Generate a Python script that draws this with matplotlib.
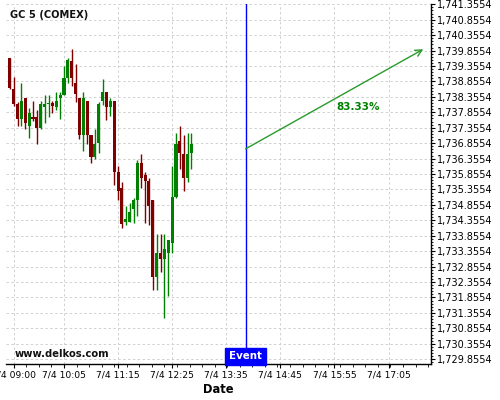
import matplotlib
matplotlib.use("Agg")
import matplotlib.pyplot as plt
import matplotlib.dates as mdates
from matplotlib.ticker import AutoMinorLocator, FixedLocator, FuncFormatter
import matplotlib.transforms as mtransforms
import numpy as np
import pandas as pd

# ---------------- data ----------------
start_time = "2019-07-04 08:55"
n_candles = 48
opens = [1739.63, 1738.61, 1738.12, 1737.63, 1738.31, 1737.42, 1737.71, 1737.71, 1737.34, 1738.04,
         1738.12, 1738.15, 1738.04, 1738.31, 1738.42, 1738.96, 1739.52, 1738.80, 1738.31, 1737.13,
         1738.22, 1737.13, 1736.42, 1736.85, 1738.22, 1738.51, 1738.04, 1738.22, 1735.93, 1735.40,
         1734.31, 1734.31, 1734.72, 1735.02, 1736.22, 1735.83, 1735.63, 1735.02, 1732.53, 1733.29,
         1733.11, 1733.29, 1733.63, 1735.12, 1736.93, 1736.51, 1735.74, 1736.53]
highs = [1739.63, 1739.01, 1738.20, 1738.80, 1738.31, 1738.01, 1738.22, 1737.92, 1738.22, 1738.42,
         1738.42, 1738.22, 1738.52, 1738.52, 1739.36, 1739.63, 1739.90, 1739.41, 1738.31, 1738.51,
         1738.22, 1737.13, 1737.31, 1738.20, 1738.93, 1738.51, 1738.31, 1738.22, 1736.12, 1735.61,
         1734.81, 1734.92, 1735.09, 1736.31, 1736.50, 1735.91, 1735.72, 1735.02, 1733.91, 1733.91,
         1733.91, 1733.72, 1736.10, 1737.20, 1737.41, 1737.12, 1737.20, 1737.20]
lows = [1738.60, 1738.07, 1737.41, 1737.41, 1737.31, 1737.02, 1737.58, 1736.83, 1737.32, 1737.52,
        1737.71, 1737.84, 1737.93, 1737.63, 1738.42, 1738.81, 1738.71, 1738.20, 1737.00, 1736.60,
        1736.82, 1736.21, 1736.34, 1736.55, 1738.09, 1737.61, 1737.74, 1735.50, 1735.02, 1734.10,
        1734.19, 1734.31, 1734.28, 1734.51, 1735.40, 1734.28, 1734.19, 1732.10, 1732.10, 1732.69,
        1731.18, 1731.89, 1733.29, 1735.07, 1736.01, 1735.31, 1735.61, 1736.01]
closes = [1738.63, 1738.13, 1737.63, 1738.22, 1737.52, 1737.82, 1737.63, 1737.34, 1738.12, 1738.12,
          1738.15, 1738.06, 1738.22, 1738.42, 1738.96, 1739.55, 1738.97, 1738.44, 1737.13, 1738.31,
          1737.13, 1736.42, 1736.83, 1738.12, 1738.51, 1738.04, 1738.22, 1735.93, 1735.32, 1734.24,
          1734.40, 1734.63, 1735.02, 1736.22, 1735.73, 1735.63, 1734.83, 1732.53, 1733.29, 1733.11,
          1733.43, 1733.72, 1735.12, 1736.83, 1736.53, 1735.74, 1736.51, 1736.83]

title_text = "GC 5 (COMEX)"
watermark = "www.delkos.com"
event_label = "Event"
event_time = "2019-07-04 14:00"
arrow_start_value = 1736.67
arrow_end_time = "2019-07-04 17:50"
arrow_end_value = 1739.90
pct_text = "83.33%"
pct_time = "2019-07-04 16:26"
pct_value = 1738.04

x_tick_times = ["2019-07-04 09:00", "2019-07-04 10:05", "2019-07-04 11:15", "2019-07-04 12:25",
                "2019-07-04 13:35", "2019-07-04 14:45", "2019-07-04 15:55", "2019-07-04 17:05"]
x_tick_labels = ["7/4 09:00", "7/4 10:05", "7/4 11:15", "7/4 12:25",
                 "7/4 13:35", "7/4 14:45", "7/4 15:55", "7/4 17:05"]
x_limits = ["2019-07-04 08:50", "2019-07-04 18:00"]
y_ticks = [1729.8554 + 0.5 * i for i in range(24)]
y_limits = (1729.70, 1741.365)

# ---------------- plot ----------------
fig = plt.figure(figsize=(5, 4), dpi=100)
ax = fig.add_axes([0.012, 0.09, 0.850, 0.90])

times = pd.date_range(start_time, periods=n_candles, freq="5min")
x = mdates.date2num(times.to_pydatetime())
o = np.array(opens); h = np.array(highs); l = np.array(lows); c = np.array(closes)
up = c >= o
cols = np.where(up, "#008000", "#800000")

ax.vlines(x, l, h, colors=cols, linewidth=1.0, zorder=3)
body_bottom = np.minimum(o, c)
body_h = np.maximum(np.abs(c - o), 0.03)
ax.bar(x, body_h, bottom=body_bottom, width=4.0 / 1440, color=cols, edgecolor=cols,
       linewidth=0, zorder=4)

ev = mdates.date2num(pd.Timestamp(event_time).to_pydatetime())
ax.axvline(ev, color="#0000ff", linewidth=1.0, zorder=5)
trans = mtransforms.blended_transform_factory(ax.transData, ax.transAxes)
ax.text(ev, 0.021, event_label, transform=trans, ha="center", va="center",
        color="white", fontsize=7.4, fontweight="bold", zorder=6,
        bbox=dict(boxstyle="square,pad=0.38", fc="#0000ff", ec="#0000ff"))

ae = mdates.date2num(pd.Timestamp(arrow_end_time).to_pydatetime())
ax.annotate("", xy=(ae, arrow_end_value), xytext=(ev, arrow_start_value),
            arrowprops=dict(arrowstyle="->", color="#2a9a2a", lw=1.0,
                            shrinkA=0, shrinkB=0, mutation_scale=12), zorder=5)
pt = mdates.date2num(pd.Timestamp(pct_time).to_pydatetime())
ax.text(pt, pct_value, pct_text, ha="center", va="center", color="#008000",
        fontsize=7.5, fontweight="bold", zorder=6)

ax.text(0.0094, 0.969, title_text, transform=ax.transAxes, ha="left", va="center",
        fontsize=7.1, fontweight="bold", color="#111111")
ax.text(0.021, 0.028, watermark, transform=ax.transAxes, ha="left", va="center",
        fontsize=7.2, fontweight="bold", color="#111111")

# axes
ax.set_xlim(*[mdates.date2num(pd.Timestamp(t).to_pydatetime()) for t in x_limits])
ax.set_ylim(*y_limits)
xt = [mdates.date2num(pd.Timestamp(t).to_pydatetime()) for t in x_tick_times]
ax.xaxis.set_major_locator(FixedLocator(xt))
ax.set_xticklabels(x_tick_labels)
ax.xaxis.set_minor_locator(AutoMinorLocator(4))
ax.yaxis.tick_right()
ax.yaxis.set_major_locator(FixedLocator(y_ticks))
ax.yaxis.set_major_formatter(FuncFormatter(lambda v, p: f"{v:,.4f}"))
ax.yaxis.set_minor_locator(AutoMinorLocator(5))
ax.tick_params(axis="y", which="major", labelsize=7, length=3, pad=1)
ax.tick_params(axis="y", which="minor", length=1.5)
ax.tick_params(axis="x", which="major", labelsize=6.6, length=3, pad=2)
ax.tick_params(axis="x", which="minor", length=2)
for s in ["left", "top"]:
    ax.spines[s].set_visible(False)
for s in ["right", "bottom"]:
    ax.spines[s].set_linewidth(1.0)
ax.grid(True, which="major", color="#d0d0d0", linestyle=(0, (2.5, 2.5)), linewidth=0.7)
ax.set_axisbelow(True)
ax.set_xlabel("Date", fontsize=8.3, fontweight="bold", labelpad=2)

fig.savefig("out.png", dpi=100)
